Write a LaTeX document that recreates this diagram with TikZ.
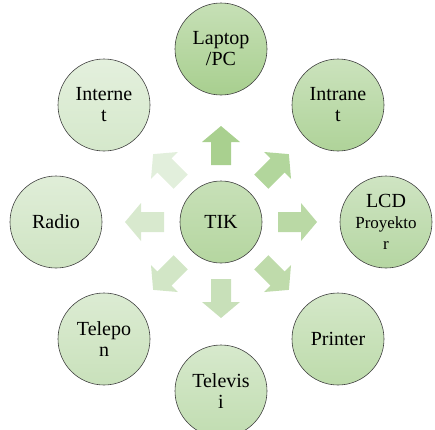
\documentclass[tikz,border=0pt]{standalone}
\usepackage{fontspec}
\setmainfont{Liberation Serif}
\begin{document}
\begin{tikzpicture}[x=1pt,y=-1pt,
  bub/.style={circle, draw=black!75, line width=0.6pt, minimum size=92pt, inner sep=0pt,
    align=center, font=\fontsize{20}{21}\selectfont},
  hub/.style={bub, minimum size=82pt, top color=#1!75!white, bottom color=#1},
  sat/.style={bub, top color=#1!65!white, bottom color=#1},
  blk/.style={fill=#1, draw=none}]
\useasboundingbox (0,0) rectangle (435,429);
\definecolor{c1}{HTML}{A8CF8F}
\definecolor{c2}{HTML}{AFD399}
\definecolor{c3}{HTML}{B5D6A2}
\definecolor{c4}{HTML}{BDDBAB}
\definecolor{c5}{HTML}{C1DDB1}
\definecolor{c6}{HTML}{C9E1BB}
\definecolor{c7}{HTML}{CFE4C3}
\definecolor{c8}{HTML}{D5E8CB}
\definecolor{c0}{HTML}{B5D6A0}
\definecolor{a1}{HTML}{A9D08F}
\definecolor{a2}{HTML}{B2D69C}
\definecolor{a3}{HTML}{BAD9A5}
\definecolor{a4}{HTML}{BFDBAB}
\definecolor{a5}{HTML}{C8E0B9}
\definecolor{a6}{HTML}{D2E6C6}
\definecolor{a7}{HTML}{D8E9CE}
\definecolor{a8}{HTML}{E2EFDC}
\coordinate (C) at (221,222);
\foreach \ang/\col in {90/a1,45/a2,0/a3,-45/a4,-90/a5,-135/a6,180/a7,135/a8}{
  \begin{scope}[shift={(C)}, rotate=\ang]
    \path[blk=\col] (57,-10)--(80,-10)--(80,-19)--(96,0)--(80,19)--(80,10)--(57,10)--cycle;
  \end{scope}
}
\node[hub=c0] (tik) at (C) {TIK};
\node[sat=c1] (laptop) at (221,49) {Laptop\\/PC};
\node[sat=c2] (intranet) at (338,105) {Intrane\\t};
\node[sat=c3] (lcd) at (386,222) {LCD\\{\fontsize{17}{20}\selectfont Proyekto}\\{\fontsize{17}{20}\selectfont r}};
\node[sat=c4] (printer) at (338,339) {Printer};
\node[sat=c5] (tv) at (221,391) {Televis\\i};
\node[sat=c6] (telepon) at (104,339) {Telepo\\n};
\node[sat=c7] (radio) at (56,222) {Radio};
\node[sat=c8] (internet) at (104,105) {Interne\\t};
\end{tikzpicture}
\end{document}
